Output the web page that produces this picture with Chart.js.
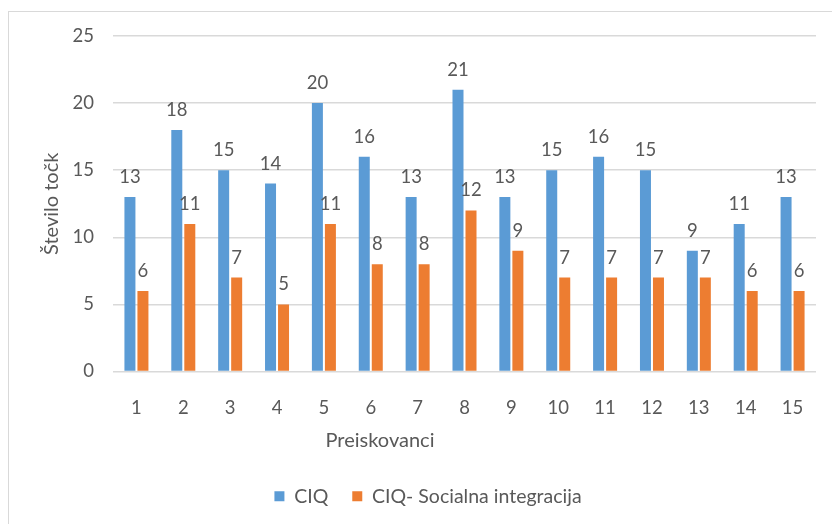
<!DOCTYPE html>
<html>
<head>
<meta charset="utf-8">
<script src="https://cdn.jsdelivr.net/npm/chart.js@4/dist/chart.umd.min.js"></script>
<style>
  html, body { margin: 0; padding: 0; background: #fff; overflow: hidden; }
  #wrap { position: relative; width: 832px; height: 524px; }
  #frame { position: absolute; left: 8px; top: 11px; width: 900px; height: 600px;
           border: 1px solid #d9d9d9; box-sizing: border-box; }
  canvas { position: absolute; left: 0; top: 0; }
</style>
</head>
<body>
<div id="wrap">
  <div id="frame"></div>
  <canvas id="c" width="832" height="524"></canvas>
</div>
<script>
// Participants and their CIQ scores
const categories = ['1','2','3','4','5','6','7','8','9','10','11','12','13','14','15'];
const ciqTotal  = [13, 18, 15, 14, 20, 16, 13, 21, 13, 15, 16, 15, 9, 11, 13];
const ciqSocial = [6, 11, 7, 5, 11, 8, 8, 12, 9, 7, 7, 7, 7, 6, 6];
const seriesNames = ['CIQ', 'CIQ- Socialna integracija'];
const yTicks = [0, 5, 10, 15, 20, 25];

const TEXT = '#595959';
const FONT = 'Lato, "Open Sans", sans-serif';

// Value labels above every column
const valueLabels = {
  id: 'valueLabels',
  afterDatasetsDraw(chart) {
    const ctx = chart.ctx;
    ctx.save();
    ctx.fillStyle = TEXT;
    ctx.font = '18.5px ' + FONT;
    ctx.textAlign = 'center';
    ctx.textBaseline = 'alphabetic';
    chart.data.datasets.forEach((ds, i) => {
      chart.getDatasetMeta(i).data.forEach((bar, j) => {
        ctx.fillText(String(ds.data[j]), bar.x, bar.y - 14);
      });
    });
    ctx.restore();
  }
};

// Category axis caption
const xCaption = {
  id: 'xCaption',
  afterDraw(chart) {
    const ctx = chart.ctx;
    ctx.save();
    ctx.fillStyle = TEXT;
    ctx.font = '20px ' + FONT;
    ctx.textAlign = 'center';
    ctx.textBaseline = 'middle';
    ctx.fillText('Preiskovanci', 380, 441);
    ctx.restore();
  }
};

new Chart(document.getElementById('c'), {
  type: 'bar',
  data: {
    labels: categories,
    datasets: [
      { label: seriesNames[0], data: ciqTotal, backgroundColor: '#5B9BD5',
        categoryPercentage: 0.555, barPercentage: 0.846 },
      { label: seriesNames[1], data: ciqSocial, backgroundColor: '#ED7D31',
        categoryPercentage: 0.555, barPercentage: 0.846 }
    ]
  },
  options: {
    responsive: false,
    animation: false,
    layout: { padding: { left: 40, right: 16, top: 36, bottom: 8 } },
    plugins: {
      legend: {
        position: 'bottom',
        labels: {
          color: TEXT,
          font: { size: 19.5, family: FONT },
          boxWidth: 10, boxHeight: 10,
          padding: 24
        }
      },
      tooltip: { enabled: false }
    },
    scales: {
      x: {
        grid: { display: false },
        border: { display: false },
        ticks: { color: TEXT, font: { size: 18.5, family: FONT }, padding: 17, maxRotation: 0 },
        afterFit(scale) { scale.height = 91; }
      },
      y: {
        min: 0, max: 25,
        afterBuildTicks(scale) { scale.ticks = yTicks.map(v => ({ value: v })); },
        grid: { color: '#d9d9d9', lineWidth: 1.5, drawTicks: false },
        border: { display: false },
        ticks: { color: TEXT, font: { size: 18.5, family: FONT }, padding: 19 },
        title: { display: true, text: 'Število točk', color: TEXT,
                 font: { size: 20, family: FONT }, padding: 0 },
        afterFit(scale) { scale.width = 73; }
      }
    }
  },
  plugins: [valueLabels, xCaption]
});
</script>
</body>
</html>
